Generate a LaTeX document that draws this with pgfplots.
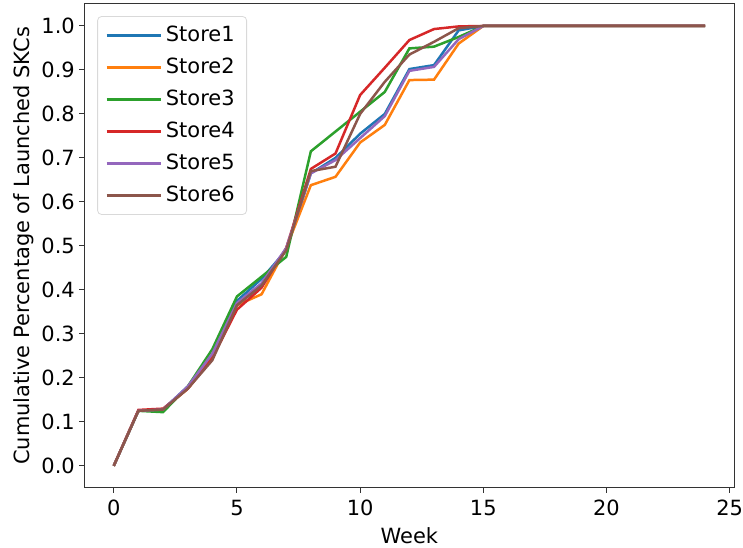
\documentclass[border=0pt]{standalone}
\usepackage{pgfplots}
\pgfplotsset{compat=1.18}
\usepackage{pgfplotstable}
\usepackage{fontspec}
\setmainfont{DejaVu Sans}
\definecolor{c0}{HTML}{1F77B4}
\definecolor{c1}{HTML}{FF7F0E}
\definecolor{c2}{HTML}{2CA02C}
\definecolor{c3}{HTML}{D62728}
\definecolor{c4}{HTML}{9467BD}
\definecolor{c5}{HTML}{8C564B}
\pgfplotstableread{
w s1 s2 s3 s4 s5 s6
0 0 0 0 0 0 0
1 0.125 0.125 0.125 0.127 0.125 0.125
2 0.128 0.128 0.122 0.130 0.128 0.128
3 0.180 0.175 0.180 0.175 0.180 0.175
4 0.250 0.245 0.265 0.245 0.255 0.240
5 0.375 0.365 0.385 0.355 0.370 0.365
6 0.425 0.390 0.430 0.405 0.415 0.410
7 0.490 0.495 0.475 0.495 0.495 0.490
8 0.665 0.638 0.715 0.675 0.665 0.670
9 0.700 0.657 0.760 0.710 0.695 0.680
10 0.755 0.735 0.805 0.843 0.745 0.800
11 0.800 0.775 0.850 0.905 0.795 0.873
12 0.902 0.877 0.949 0.968 0.898 0.935
13 0.911 0.878 0.953 0.993 0.907 0.964
14 0.990 0.960 0.975 0.999 0.970 0.995
15 1 1 1 1 1 1
16 1 1 1 1 1 1
17 1 1 1 1 1 1
18 1 1 1 1 1 1
19 1 1 1 1 1 1
20 1 1 1 1 1 1
21 1 1 1 1 1 1
22 1 1 1 1 1 1
23 1 1 1 1 1 1
24 1 1 1 1 1 1
}\data
\begin{document}
\begin{tikzpicture}
\begin{axis}[
  scale only axis,
  width=326pt, height=242.5pt,
  xmin=-1.2, xmax=25.2, ymin=-0.05, ymax=1.05,
  xtick={0,5,10,15,20,25},
  ytick={0,0.1,...,1.01},
  /pgf/number format/assume math mode=true,
  yticklabel style={/pgf/number format/fixed, /pgf/number format/fixed zerofill, /pgf/number format/precision=1, inner sep=2pt},
  xticklabel style={inner xsep=0pt, inner ysep=3.5pt},
  tick align=outside, tick pos=lower,
  major tick length=2.5pt,
  tick style={black!80, line width=0.5pt},
  axis line style={black!80, line width=0.5pt},
  font=\fontsize{10.5}{12.6}\selectfont,
  xlabel={Week}, ylabel={Cumulative Percentage of Launched SKCs},
  xlabel style={inner sep=2pt},
  ylabel style={inner sep=2pt, yshift=-0.5pt},
  legend style={at={(0.02,0.975)}, anchor=north west, draw=black!15, rounded corners=2pt,
    font=\fontsize{10.5}{12.6}\selectfont, inner xsep=4pt, inner ysep=3pt, row sep=2.7pt},
  legend cell align=left,
  legend image code/.code={\draw[#1, line width=1.25pt] (0pt,0pt) -- (22pt,0pt); \path (0pt,0pt) -- (27pt,0pt);},
  every axis plot/.append style={line width=1.25pt},
]
\addplot[c0] table[x=w,y=s1]{\data}; \addlegendentry{Store1}
\addplot[c1] table[x=w,y=s2]{\data}; \addlegendentry{Store2}
\addplot[c2] table[x=w,y=s3]{\data}; \addlegendentry{Store3}
\addplot[c3] table[x=w,y=s4]{\data}; \addlegendentry{Store4}
\addplot[c4] table[x=w,y=s5]{\data}; \addlegendentry{Store5}
\addplot[c5] table[x=w,y=s6]{\data}; \addlegendentry{Store6}
\coordinate (o) at (rel axis cs:0,0);
\coordinate (t) at (rel axis cs:0,1);
\end{axis}
\path (o) ++(-42.2pt,0pt);
\path (t) ++(0pt,2pt);
\end{tikzpicture}
\end{document}
